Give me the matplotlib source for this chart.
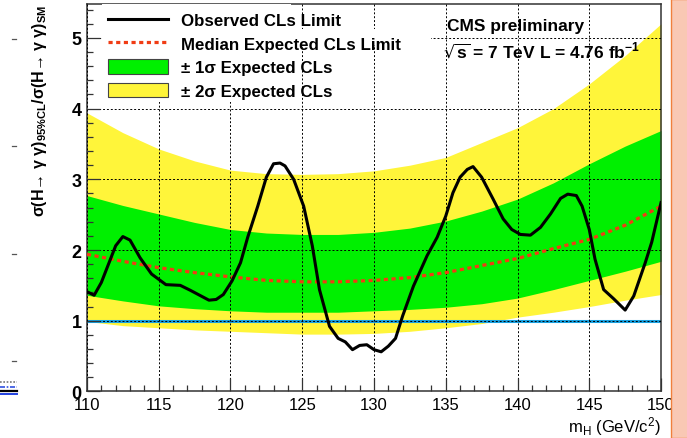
import matplotlib
matplotlib.use("Agg")
import matplotlib.pyplot as plt
from matplotlib.lines import Line2D
from matplotlib.patches import Patch, Rectangle
from matplotlib.ticker import MultipleLocator

plt.rcParams['font.family'] = ['Liberation Sans', 'DejaVu Sans']
plt.rcParams['mathtext.default'] = 'regular'

# expected bands, read every 2.5 GeV
mass_grid = [110, 112.5, 115, 117.5, 120, 122.5, 125, 127.5, 130, 132.5,
             135, 137.5, 140, 142.5, 145, 147.5, 150]
median_exp = [1.94, 1.84, 1.75, 1.68, 1.62, 1.57, 1.55, 1.55, 1.57, 1.61,
              1.68, 1.78, 1.88, 2.02, 2.15, 2.35, 2.62]
one_sigma_hi = [2.77, 2.63, 2.51, 2.39, 2.29, 2.24, 2.22, 2.22, 2.25, 2.31,
                2.41, 2.55, 2.72, 2.95, 3.22, 3.47, 3.69]
one_sigma_lo = [1.36, 1.28, 1.21, 1.17, 1.14, 1.12, 1.12, 1.12, 1.14, 1.16,
                1.19, 1.24, 1.32, 1.44, 1.57, 1.70, 1.84]
two_sigma_hi = [3.94, 3.66, 3.43, 3.26, 3.13, 3.08, 3.07, 3.08, 3.12, 3.20,
                3.31, 3.52, 3.73, 4.00, 4.35, 4.75, 5.20]
two_sigma_lo = [0.99, 0.93, 0.90, 0.87, 0.85, 0.83, 0.81, 0.81, 0.82, 0.85,
                0.90, 0.96, 1.05, 1.12, 1.20, 1.29, 1.37]

# observed limit
obs_mass = [110.0, 110.5, 111.0, 112.0, 112.5, 113.0, 113.7, 114.5, 115.5, 116.5,
            117.2, 118.5, 119.0, 119.5, 120.1, 120.7, 121.2, 121.9, 122.5, 123.0,
            123.45, 123.8, 124.4, 125.1, 125.7, 126.2, 126.9, 127.5, 128.0, 128.5,
            129.0, 129.5, 130.0, 130.5, 131.0, 131.5, 132.0, 132.75, 133.7, 134.4,
            135.0, 135.5, 136.0, 136.5, 136.9, 137.5, 138.3, 139.0, 139.6, 140.2,
            140.9, 141.6, 142.3, 143.0, 143.5, 144.1, 144.5, 145.0, 145.4, 146.0,
            146.7, 147.5, 148.1, 148.9, 149.35, 150.0]
obs_limit = [1.41, 1.36, 1.54, 2.06, 2.19, 2.14, 1.89, 1.66, 1.51, 1.50,
             1.43, 1.29, 1.30, 1.37, 1.56, 1.82, 2.18, 2.62, 3.03, 3.22,
             3.23, 3.19, 3.00, 2.62, 2.06, 1.44, 0.92, 0.75, 0.70, 0.59,
             0.65, 0.66, 0.59, 0.56, 0.64, 0.75, 1.07, 1.49, 1.92, 2.18,
             2.48, 2.81, 3.03, 3.14, 3.18, 3.03, 2.72, 2.44, 2.29, 2.22,
             2.21, 2.32, 2.51, 2.73, 2.79, 2.77, 2.62, 2.29, 1.87, 1.44,
             1.31, 1.15, 1.35, 1.82, 2.11, 2.67]

sm_level = 1.0

green = '#00f000'
yellow = '#fff53a'
red = '#f03c14'
blue = '#18a0e0'

fig = plt.figure(figsize=(6.87, 4.39), dpi=100)
ax = fig.add_axes([0.1266, 0.1062, 0.8356, 0.8824])

ax.fill_between(mass_grid, two_sigma_lo, two_sigma_hi, color=yellow, lw=0, zorder=1)
ax.fill_between(mass_grid, one_sigma_lo, one_sigma_hi, color=green, lw=0, zorder=1.1)
ax.axhline(sm_level, color=blue, lw=2.2, zorder=1.5)

ax.set_axisbelow(False)
ax.grid(True, which='major', color='black', linestyle=(0, (2, 2)), lw=0.7)

# white box behind the legend hides the grid there
ax.add_patch(Rectangle((0.026, 0.748), 0.33, 0.26, transform=ax.transAxes,
                       facecolor='white', edgecolor='none', zorder=2.6))
ax.add_patch(Rectangle((0.35, 0.895), 0.25, 0.04, transform=ax.transAxes,
                       facecolor='white', edgecolor='none', zorder=2.6))

ax.plot(mass_grid, median_exp, color=red, lw=2.3, linestyle=(0, (1.3, 1.1)), zorder=3)
ax.plot(obs_mass, obs_limit, color='black', lw=2.2, zorder=4)

ax.set_xlim(110, 150)
ax.set_ylim(0, 5.48)
ax.xaxis.set_major_locator(MultipleLocator(5))
ax.xaxis.set_minor_locator(MultipleLocator(1))
ax.yaxis.set_major_locator(MultipleLocator(1))
ax.yaxis.set_minor_locator(MultipleLocator(0.2))
ax.tick_params(which='both', direction='in', top=False, right=False,
               color='#333333', width=0.9)
ax.tick_params(which='major', length=9.5)
ax.tick_params(which='minor', length=4.6)
ax.tick_params(axis='x', labelsize=12, pad=4)
ax.tick_params(axis='y', labelsize=13, pad=4)
for lab in ax.get_yticklabels():
    lab.set_fontweight('bold')
for sp in ax.spines.values():
    sp.set_color('#333333')
    sp.set_linewidth(1.1)

ax.text(1.0, -0.059, r'm$_{H}$ (GeV/c$^{2}$)', transform=ax.transAxes,
        ha='right', va='top', fontsize=12)
fig.text(0.058, 0.99, r'σ(H→ γ γ)$_{95\%CL}$/σ(H→ γ γ)$_{SM}$', rotation=90,
         ha='center', va='top', fontsize=11.5, fontweight='bold')

handles = [Line2D([], [], color='black', lw=2.2),
           Line2D([], [], color=red, lw=2.3, linestyle=(0, (1.3, 1.1))),
           Patch(facecolor=green, edgecolor='#444444', lw=0.8),
           Patch(facecolor=yellow, edgecolor='#444444', lw=0.8)]
labels = ['Observed CLs Limit', 'Median Expected CLs Limit',
          '± 1σ Expected CLs', '± 2σ Expected CLs']
leg = ax.legend(handles, labels, loc='upper left', bbox_to_anchor=(0.037, 0.979),
                frameon=False, borderpad=0, borderaxespad=0, handlelength=3.5,
                handleheight=0.9, handletextpad=0.8, labelspacing=0.46,
                prop={'size': 12.2, 'weight': 'bold'})
leg.set_zorder(5)

ax.text(0.627, 0.933, 'CMS preliminary', transform=ax.transAxes,
        fontsize=12.5, fontweight='bold', va='baseline', zorder=5)
ax.text(0.620, 0.863, r'$\sqrt{s}$ = 7 TeV L = 4.76 fb$^{-1}$', transform=ax.transAxes,
        fontsize=12.5, fontweight='bold', va='baseline', zorder=5)

# bits of the screenshot around the plot
for yf in [0.909, 0.665, 0.419, 0.175]:
    fig.add_artist(Line2D([0.017, 0.023], [yf, yf], color='#555555', lw=0.9))
fig.add_artist(Line2D([0.0, 0.025], [0.128, 0.128], color='#777777', lw=1.2, ls=(0, (1, 1))))
fig.add_artist(Line2D([0.0, 0.025], [0.117, 0.117], color='#3050e0', lw=1.2, ls=(0, (3, 1, 1, 1))))
fig.add_artist(Line2D([0.0, 0.025], [0.108, 0.108], color='black', lw=1.6))
fig.add_artist(Line2D([0.0, 0.025], [0.100, 0.100], color='#2040e0', lw=1.4))
fig.patches.append(Rectangle((0.977, 0), 0.03, 1, transform=fig.transFigure,
                             facecolor='#f9c8b4', edgecolor='#f0803c', lw=1.0,
                             zorder=10))

fig.savefig('out.png', dpi=100)
